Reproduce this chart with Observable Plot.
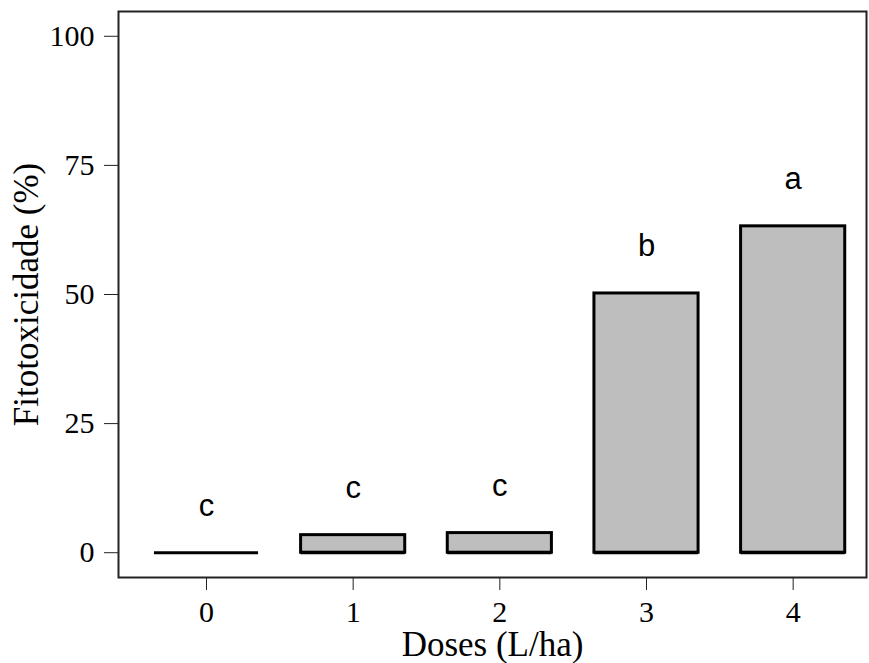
<!DOCTYPE html>
<html>
<head>
<meta charset="utf-8">
<script src="https://cdn.jsdelivr.net/npm/d3@7"></script>
<script src="https://cdn.jsdelivr.net/npm/@observablehq/plot@0.6"></script>
<style>
  html, body { margin: 0; padding: 0; background: #fff; }
  #chart svg { display: block; }
</style>
</head>
<body>
<div id="chart"></div>
<script>
const doses = [0, 1, 2, 3, 4];
const fitotoxicidade = [0, 3.4, 3.8, 50.2, 63.2];
const letters = ["c", "c", "c", "b", "a"];
const yTicks = [0, 25, 50, 75, 100];
const xLabel = "Doses (L/ha)";
const yLabel = "Fitotoxicidade (%)";

const halfWidth = 0.355;
const data = doses.map((d, i) => ({dose: d, value: fitotoxicidade[i], letter: letters[i]}));

const serif = "'Liberation Serif', 'Times New Roman', serif";
const sans = "'Liberation Sans', Arial, sans-serif";

const chart = Plot.plot({
  width: 869,
  height: 663,
  marginLeft: 118,
  marginRight: 3,
  marginTop: 11,
  marginBottom: 86,
  style: {background: "#fff", color: "#000"},
  x: {type: "linear", domain: [-0.6, 4.5]},
  y: {domain: [-4.8, 104.8]},
  marks: [
    Plot.rect(data, {
      x1: d => d.dose - halfWidth,
      x2: d => d.dose + halfWidth,
      y1: 0,
      y2: "value",
      fill: "#bebebe",
      stroke: "#000",
      strokeWidth: 3
    }),
    Plot.ruleY(data, {
      x1: d => d.dose - halfWidth,
      x2: d => d.dose + halfWidth,
      y: 0,
      stroke: "#000",
      strokeWidth: 3
    }),
    Plot.text(data, {
      x: "dose",
      y: "value",
      text: "letter",
      dy: -47,
      fontSize: 31,
      fontFamily: sans,
      fill: "#000"
    }),
    Plot.frame({stroke: "#222", strokeWidth: 2}),
    Plot.axisY({
      ticks: yTicks,
      tickSize: 14,
      tickPadding: 10,
      tickWidth: 1.5,
      fontSize: 30,
      fontFamily: serif,
      label: null,
      stroke: "#222"
    }),
    Plot.axisX({
      ticks: doses,
      tickFormat: d => String(d),
      tickSize: 13,
      tickPadding: 10,
      tickWidth: 1.5,
      fontSize: 30,
      fontFamily: serif,
      label: null,
      stroke: "#222"
    }),
    Plot.text([xLabel], {
      frameAnchor: "bottom",
      lineAnchor: "top",
      dy: 54,
      fontSize: 35,
      fontFamily: serif,
      fill: "#000"
    }),
    Plot.text([yLabel], {
      frameAnchor: "left",
      textAnchor: "middle",
      rotate: -90,
      dx: -92,
      fontSize: 35,
      fontFamily: serif,
      fill: "#000"
    })
  ]
});
document.getElementById("chart").appendChild(chart);
</script>
</body>
</html>
